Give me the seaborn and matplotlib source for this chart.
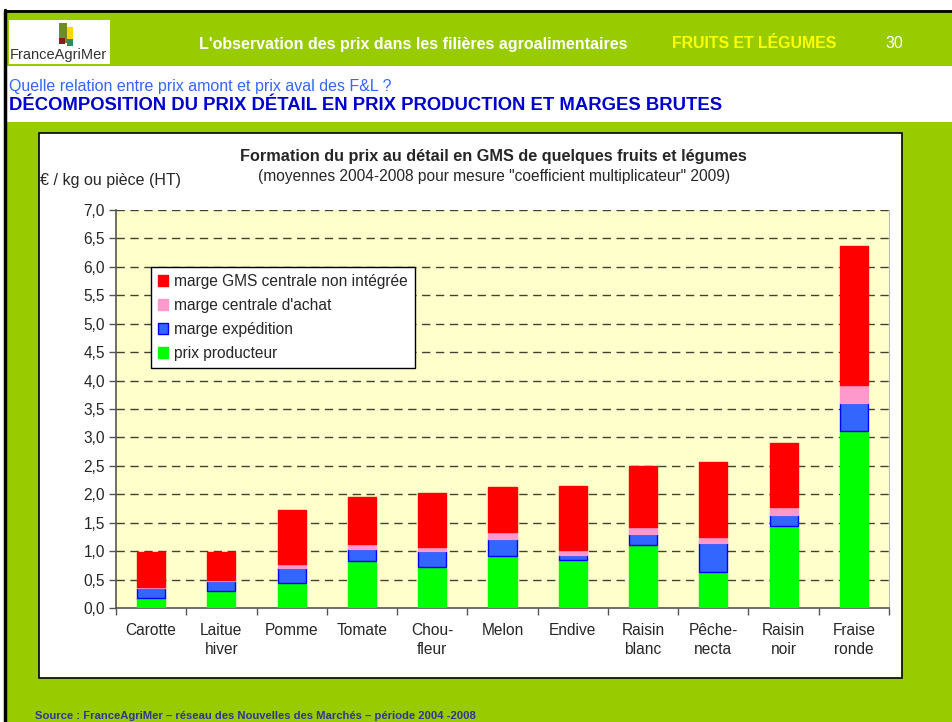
import numpy as np
import pandas as pd
import matplotlib
matplotlib.use("Agg")
import matplotlib.pyplot as plt
from matplotlib.patches import Rectangle, Patch
from matplotlib.ticker import FuncFormatter, FixedLocator
import seaborn as sns

# ── Data (€ / kg or piece) ────────────────────────────────────────────────────
products = ["Carotte", "Laitue\nhiver", "Pomme", "Tomate", "Chou-\nfleur", "Melon",
            "Endive", "Raisin\nblanc", "Pêche-\nnecta", "Raisin\nnoir", "Fraise\nronde"]
prix_producteur = [0.18, 0.30, 0.44, 0.82, 0.72, 0.91, 0.85, 1.10, 0.64, 1.44, 3.11]
marge_expedition = [0.17, 0.17, 0.27, 0.22, 0.28, 0.31, 0.09, 0.21, 0.51, 0.19, 0.50]
marge_centrale = [0.02, 0.03, 0.06, 0.08, 0.07, 0.11, 0.08, 0.11, 0.10, 0.15, 0.32]
marge_gms = [0.62, 0.48, 0.95, 0.84, 0.96, 0.79, 1.13, 1.08, 1.31, 1.12, 2.43]

series_names = ["prix producteur", "marge expédition", "marge centrale d'achat",
                "marge GMS centrale non intégrée"]
series_colors = ["#00FF00", "#3366FF", "#FF99CC", "#FF0000"]
series_edges = ["#00FF00", "#0000FF", "#FF99CC", "#FF0000"]

# ── Style ─────────────────────────────────────────────────────────────────────
sns.set_style("white")
plt.rcParams["font.family"] = ["Liberation Sans", "DejaVu Sans"]
FS = 11.2

W, H = 953, 722
fig = plt.figure(figsize=(W / 100, H / 100), dpi=100)

# background canvas in pixel coordinates
bg = fig.add_axes([0, 0, 1, 1], zorder=0)
bg.set_xlim(0, W)
bg.set_ylim(H, 0)
bg.axis("off")

GREEN = "#99CC00"
bg.add_patch(Rectangle((5, 10), W - 5, H - 10, facecolor=GREEN, edgecolor="none"))
bg.add_patch(Rectangle((5, 66), W - 5, 56, facecolor="white", edgecolor="none"))
bg.plot([5, W], [10.5, 10.5], color="black", lw=2)
bg.plot([5.5, 5.5], [10, H], color="black", lw=2.5)

# logo
bg.add_patch(Rectangle((9, 20), 101, 44, facecolor="white", edgecolor="none"))
bg.add_patch(Rectangle((59, 23), 8, 20, facecolor="#6B8E23", edgecolor="none"))
bg.add_patch(Rectangle((67, 27), 6, 12, facecolor="#FFD700", edgecolor="none"))
bg.add_patch(Rectangle((59, 38), 6, 6, facecolor="#8B1A1A", edgecolor="none"))
bg.add_patch(Rectangle((67, 39), 6, 7, facecolor="#2E8B57", edgecolor="none"))
bg.text(10, 55, "FranceAgriMer", fontsize=10.5, color="#333333", va="center", ha="left")

# header texts
bg.text(413, 44, "L'observation des prix dans les filières agroalimentaires", fontsize=11.5,
        fontweight="bold", color="white", ha="center", va="center")
bg.text(754, 44, "FRUITS ET LÉGUMES", fontsize=11.4, fontweight="bold", color="#FFFF00",
        ha="center", va="center")
bg.text(894, 44, "30", fontsize=11.4, color="white", ha="center", va="center")
bg.text(9, 87, "Quelle relation entre prix amont et prix aval des F&L ?", fontsize=11.5,
        color="#3366FF", ha="left", va="center")
bg.text(9, 105, "DÉCOMPOSITION DU PRIX DÉTAIL EN PRIX PRODUCTION ET MARGES BRUTES",
        fontsize=13.3, fontweight="bold", color="#0000CC", ha="left", va="center")

# chart frame
bg.add_patch(Rectangle((39, 133), 863, 545, facecolor="white", edgecolor="black", lw=1.2))
bg.text(493, 156, "Formation du prix au détail en GMS de quelques fruits et légumes",
        fontsize=11.7, fontweight="bold", ha="center", va="center")
bg.text(494, 176, "(moyennes 2004-2008 pour mesure \"coefficient multiplicateur\" 2009)",
        fontsize=11.2, ha="center", va="center")
bg.text(40, 181, "€ / kg ou pièce (HT)", fontsize=11.5, ha="left", va="center")

bg.text(35, 716, "Source : FranceAgriMer – réseau des Nouvelles des Marchés – période 2004 -2008",
        fontsize=8.1, fontweight="bold", color="#333399", ha="left", va="center")

# ── Chart ─────────────────────────────────────────────────────────────────────
ax = fig.add_axes([116 / W, 1 - 608 / H, (889 - 116) / W, (608 - 210) / H], zorder=2)
ax.set_facecolor("#FFFFCC")

df = pd.DataFrame({"produit": products})
bottom = np.zeros(len(products))
for name, vals, col, ec in zip(series_names,
                               [prix_producteur, marge_expedition, marge_centrale, marge_gms],
                               series_colors, series_edges):
    df[name] = vals
    sns.barplot(data=df, x="produit", y=name, bottom=bottom, color=col, width=0.4,
                edgecolor=ec, linewidth=1.0, saturation=1, ax=ax, zorder=3)
    bottom = bottom + np.array(vals)

ax.set_ylim(0, 7.0)
ax.set_xlim(-0.5, len(products) - 0.5)
ax.set_yticks(np.arange(0, 7.01, 0.5))
ax.yaxis.set_major_formatter(FuncFormatter(lambda v, p: f"{v:.1f}".replace(".", ",")))
ax.tick_params(axis="y", length=5, width=1, color="#555555", labelsize=FS, pad=3, left=True)
ax.tick_params(axis="x", which="major", length=0, labelsize=FS, pad=10.5)
ax.xaxis.set_minor_locator(FixedLocator(np.arange(-0.5, len(products), 1.0)))
ax.tick_params(axis="x", which="minor", length=5, width=1, color="#555555", bottom=True)
for lbl in ax.get_xticklabels():
    lbl.set_linespacing(1.38)
ax.set_xlabel("")
ax.set_ylabel("")

ax.grid(False)
for yv in np.arange(0.5, 7.01, 0.5):
    ax.axhline(yv, color="black", lw=1, ls=(0, (6, 4)), alpha=0.75, zorder=1)

for side in ["left", "bottom"]:
    ax.spines[side].set_color("#555555")
    ax.spines[side].set_linewidth(1.2)
ax.spines["right"].set_color("#BBBBBB")
ax.spines["top"].set_visible(False)

handles = [Patch(facecolor=c, edgecolor=e, label=n)
           for n, c, e in zip(series_names, series_colors, series_edges)][::-1]
leg = ax.legend(handles=handles, loc="upper left", bbox_to_anchor=(0.045, 0.857),
                borderaxespad=0, fancybox=False, framealpha=1, edgecolor="black",
                fontsize=FS, handlelength=0.65, handleheight=0.65, handletextpad=0.4,
                labelspacing=0.58, borderpad=0.45)
leg.get_frame().set_linewidth(1.0)
leg.set_zorder(5)

fig.savefig("out.png", dpi=100)
